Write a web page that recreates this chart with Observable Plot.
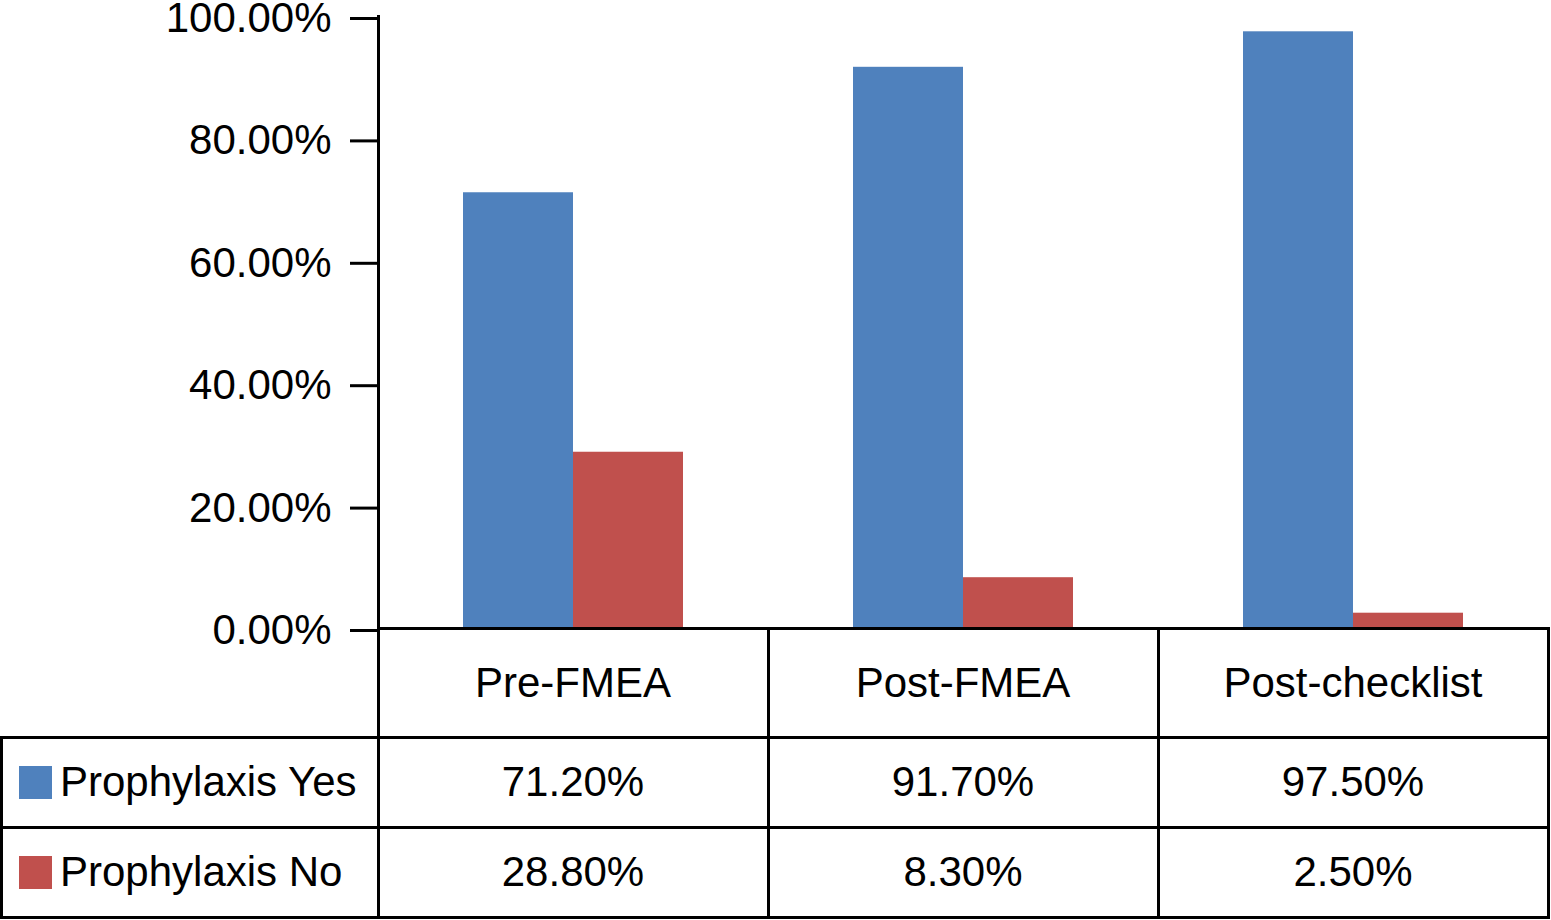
<!DOCTYPE html>
<html>
<head>
<meta charset="utf-8">
<script src="https://cdn.jsdelivr.net/npm/d3@7"></script>
<script src="https://cdn.jsdelivr.net/npm/@observablehq/plot@0.6"></script>
<style>
  html, body { margin: 0; padding: 0; background: white; }
  #wrap { position: relative; width: 1551px; height: 920px; overflow: hidden; font-family: "Liberation Sans", Arial, sans-serif; }
  #wrap svg { position: absolute; left: 0; top: 0; }
  .cell { position: absolute; box-sizing: border-box; border: 3px solid black; display: flex; align-items: center; justify-content: center; font-size: 42px; color: black; white-space: nowrap; }
  .cell.legend { justify-content: flex-start; padding-left: 16px; }
  .swatch { width: 33px; height: 33px; margin-right: 8px; flex: none; }
</style>
</head>
<body>
<div id="wrap"></div>
<script>
const categories = ["Pre-FMEA", "Post-FMEA", "Post-checklist"];
const seriesNames = ["Prophylaxis Yes", "Prophylaxis No"];
const yesValues = [71.2, 91.7, 97.5];
const noValues = [28.8, 8.3, 2.5];
const yTicks = [0, 20, 40, 60, 80, 100];
const colors = ["#4F81BD", "#C0504D"];

const seriesValues = [yesValues, noValues];
const data = categories.flatMap((c, i) =>
  seriesNames.map((s, j) => ({category: c, series: s, value: seriesValues[j][i]}))
);
const fmt = d => d.toFixed(2) + "%";

const plot = Plot.plot({
  width: 1551,
  height: 631,
  marginTop: 16,
  marginBottom: 3,
  marginLeft: 377,
  marginRight: 2,
  style: {fontFamily: "'Liberation Sans', Arial, sans-serif", fontSize: "42px", color: "black", background: "white", overflow: "visible"},
  fx: {domain: categories, padding: 0, axis: null},
  x: {domain: seriesNames, paddingInner: 0, paddingOuter: 0.77, axis: null},
  y: {domain: [0, 100], axis: null},
  color: {domain: seriesNames, range: colors},
  marks: [
    Plot.barY(data, {fx: "category", x: "series", y: "value", fill: "series"}),
    Plot.ruleY([0], {strokeWidth: 3}),
    Plot.frame({anchor: "left", facetAnchor: "left", strokeWidth: 3}),
    Plot.axisY(yTicks, {tickSize: 28, tickPadding: 19, strokeWidth: 3, tickFormat: fmt, label: null, fontSize: 42, dy: 2, facetAnchor: "left"})
  ]
});

const wrap = document.getElementById("wrap");
wrap.appendChild(plot);

// Data table below the plot, aligned with the facet bands
const fx = plot.scale("fx");
const yScale = plot.scale("y");
const bw = fx.bandwidth;
const colStarts = categories.map(c => fx.apply(c));
const xs = [1.5, ...colStarts, colStarts[colStarts.length - 1] + bw];
const y0 = yScale.apply(0);
const ys = [y0, y0 + 109, y0 + 199, y0 + 289];

function cell(x0, x1, yA, yB, cls) {
  const d = document.createElement("div");
  d.className = "cell" + (cls ? " " + cls : "");
  d.style.left = (x0 - 1.5) + "px";
  d.style.top = (yA - 1.5) + "px";
  d.style.width = (x1 - x0 + 3) + "px";
  d.style.height = (yB - yA + 3) + "px";
  wrap.appendChild(d);
  return d;
}

// header row
categories.forEach((c, i) => {
  const d = cell(xs[i + 1], xs[i + 2], ys[0], ys[1]);
  d.textContent = c;
});
// series rows
seriesNames.forEach((s, j) => {
  const lg = cell(xs[0], xs[1], ys[j + 1], ys[j + 2], "legend");
  const sw = document.createElement("span");
  sw.className = "swatch";
  sw.style.background = colors[j];
  lg.appendChild(sw);
  const t = document.createElement("span");
  t.textContent = s;
  lg.appendChild(t);
  categories.forEach((c, i) => {
    const d = cell(xs[i + 1], xs[i + 2], ys[j + 1], ys[j + 2]);
    d.textContent = fmt(seriesValues[j][i]);
  });
});
</script>
</body>
</html>
